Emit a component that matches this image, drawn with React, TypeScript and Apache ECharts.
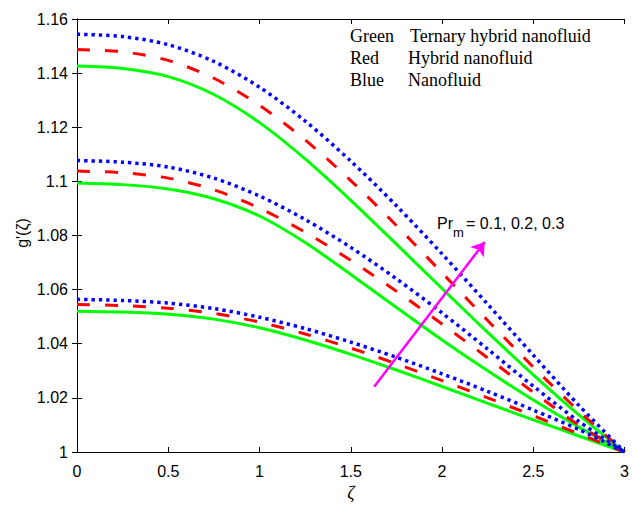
import React, { useEffect, useRef } from "react";
import * as echarts from "echarts";

const zeta = [0, 0.25, 0.5, 0.75, 1, 1.25, 1.5, 1.75, 2, 2.25, 2.5, 2.75, 3];

// Pr_m = 0.3 (top group)
const blueTop = [1.1544, 1.1535, 1.1505, 1.1443, 1.1348, 1.1223, 1.1075, 1.091, 1.0732, 1.0546, 1.0358, 1.0172, 1.0];
const redTop = [1.1487, 1.1479, 1.1447, 1.1381, 1.1281, 1.1153, 1.1003, 1.0837, 1.0662, 1.0486, 1.0314, 1.0151, 1.0];
const greenTop = [1.1426, 1.1417, 1.1387, 1.1321, 1.1217, 1.1083, 1.093, 1.0768, 1.0604, 1.0442, 1.0285, 1.0137, 1.0];

// Pr_m = 0.2 (middle group)
const blueMid = [1.1077, 1.1071, 1.1053, 1.1012, 1.0946, 1.0859, 1.0756, 1.064, 1.0514, 1.038, 1.0243, 1.0113, 1.0];
const redMid = [1.1038, 1.1032, 1.1012, 1.0969, 1.0901, 1.0812, 1.0708, 1.0594, 1.0473, 1.0348, 1.0221, 1.0099, 1.0];
const greenMid = [1.0994, 1.0988, 1.0972, 1.0936, 1.0872, 1.0774, 1.0656, 1.0534, 1.0414, 1.03, 1.0192, 1.0092, 1.0];

// Pr_m = 0.1 (bottom group)
const blueLow = [1.0564, 1.056, 1.055, 1.053, 1.0498, 1.0456, 1.0406, 1.035, 1.0289, 1.0224, 1.0155, 1.0083, 1.0];
const redLow = [1.0545, 1.0541, 1.0531, 1.0512, 1.048, 1.0436, 1.0384, 1.0326, 1.0264, 1.02, 1.0134, 1.0067, 1.0];
const greenLow = [1.052, 1.0517, 1.0509, 1.0491, 1.0459, 1.0414, 1.0361, 1.0303, 1.0242, 1.018, 1.0119, 1.0059, 1.0];

const arrowStart = [1.628, 1.0241];
const arrowEnd = [2.234, 1.0776];

const legendKeys = ["Green", "Red", "Blue"];
const legendNames = ["Ternary hybrid nanofluid", "Hybrid nanofluid", "Nanofluid"];
const prLabel = ["Pr", "m", "= 0.1, 0.2, 0.3"];

const GREEN = "#00ff00";
const RED = "#ff0000";
const BLUE = "#0000ff";

function pairs(ys: number[]) {
  return zeta.map((x, i) => [x, ys[i]]);
}

function lineSeries(name: string, ys: number[], color: string, kind: "solid" | "dash" | "dot") {
  const lineStyle: any = { color, width: 3, cap: "butt" };
  if (kind === "dash") {
    lineStyle.type = [13, 15];
  } else if (kind === "dot") {
    lineStyle.type = [3.3, 4];
    lineStyle.width = 3.5;
  }
  return {
    name,
    type: "line",
    data: pairs(ys),
    smooth: 0.3,
    showSymbol: false,
    symbol: "none",
    lineStyle,
    z: kind === "solid" ? 2 : kind === "dash" ? 3 : 4,
  };
}

export default function App() {
  const ref = useRef<HTMLDivElement>(null);
  useEffect(() => {
    if (!ref.current) return;
    const chart = echarts.init(ref.current, undefined, { renderer: "svg" });
    const sans = "'Liberation Sans', Arial, sans-serif";
    const serif = "'Liberation Serif', 'Times New Roman', serif";
    const axisCommon = {
      axisLine: { show: true, lineStyle: { color: "#000", width: 1 } },
      axisTick: { show: true, inside: true, length: 5, lineStyle: { color: "#000" } },
      splitLine: { show: false },
    };
    const fmt = (v: number) => parseFloat(v.toFixed(2)).toString();
    chart.setOption({
      animation: false,
      backgroundColor: "#fff",
      grid: { left: 77, right: 6, top: 19, bottom: 55, containLabel: false },
      xAxis: [
        {
          type: "value",
          min: 0,
          max: 3,
          interval: 0.5,
          position: "bottom",
          ...axisCommon,
          axisLabel: { color: "#000", fontSize: 16, fontFamily: sans, margin: 11, formatter: fmt },
        },
        {
          type: "value",
          min: 0,
          max: 3,
          interval: 0.5,
          position: "top",
          ...axisCommon,
          axisLabel: { show: false },
        },
      ],
      yAxis: [
        {
          type: "value",
          min: 1,
          max: 1.16,
          interval: 0.02,
          position: "left",
          ...axisCommon,
          axisLabel: { color: "#000", fontSize: 16, fontFamily: sans, margin: 9, formatter: fmt },
        },
        {
          type: "value",
          min: 1,
          max: 1.16,
          interval: 0.02,
          position: "right",
          ...axisCommon,
          axisLabel: { show: false },
        },
      ],
      series: [
        lineSeries("greenTop", greenTop, GREEN, "solid"),
        lineSeries("greenMid", greenMid, GREEN, "solid"),
        lineSeries("greenLow", greenLow, GREEN, "solid"),
        lineSeries("redTop", redTop, RED, "dash"),
        lineSeries("redMid", redMid, RED, "dash"),
        lineSeries("redLow", redLow, RED, "dash"),
        lineSeries("blueTop", blueTop, BLUE, "dot"),
        lineSeries("blueMid", blueMid, BLUE, "dot"),
        lineSeries("blueLow", blueLow, BLUE, "dot"),
        {
          type: "lines",
          coordinateSystem: "cartesian2d",
          z: 6,
          symbol: ["none", "arrow"],
          symbolSize: 13,
          lineStyle: { color: "#ff00ff", width: 2.5, opacity: 1 },
          data: [{ coords: [arrowStart, arrowEnd] }],
        },
      ],
      graphic: [
        ...legendKeys.map((k, i) => ({
          type: "text",
          left: 350,
          top: 38 + i * 22 - 11,
          style: { text: k, font: `18px ${serif}`, fill: "#000" },
        })),
        ...legendNames.map((k, i) => ({
          type: "text",
          left: i === 0 ? 410 : 408,
          top: 38 + i * 22 - 11,
          style: { text: k, font: `18px ${serif}`, fill: "#000" },
        })),
        {
          type: "text",
          x: 437,
          y: 223,
          style: { text: prLabel[0], font: `16px ${sans}`, fill: "#000", verticalAlign: "middle" },
        },
        {
          type: "text",
          x: 453,
          y: 232,
          style: { text: prLabel[1], font: `13px ${sans}`, fill: "#000", verticalAlign: "middle" },
        },
        {
          type: "text",
          x: 466,
          y: 223,
          style: { text: prLabel[2], font: `16px ${sans}`, fill: "#000", verticalAlign: "middle" },
        },
        {
          type: "text",
          x: 22,
          y: 233,
          rotation: Math.PI / 2,
          style: { text: "g'(ζ)", font: `16px ${sans}`, fill: "#000", align: "center", verticalAlign: "middle" },
        },
        {
          type: "text",
          x: 351,
          y: 493,
          style: { text: "ζ", font: `italic 18px ${serif}`, fill: "#000", align: "center", verticalAlign: "middle" },
        },
      ],
    });
    return () => chart.dispose();
  }, []);
  return <div ref={ref} style={{ position: "fixed", left: 0, top: 0, width: 632, height: 507 }} />;
}
